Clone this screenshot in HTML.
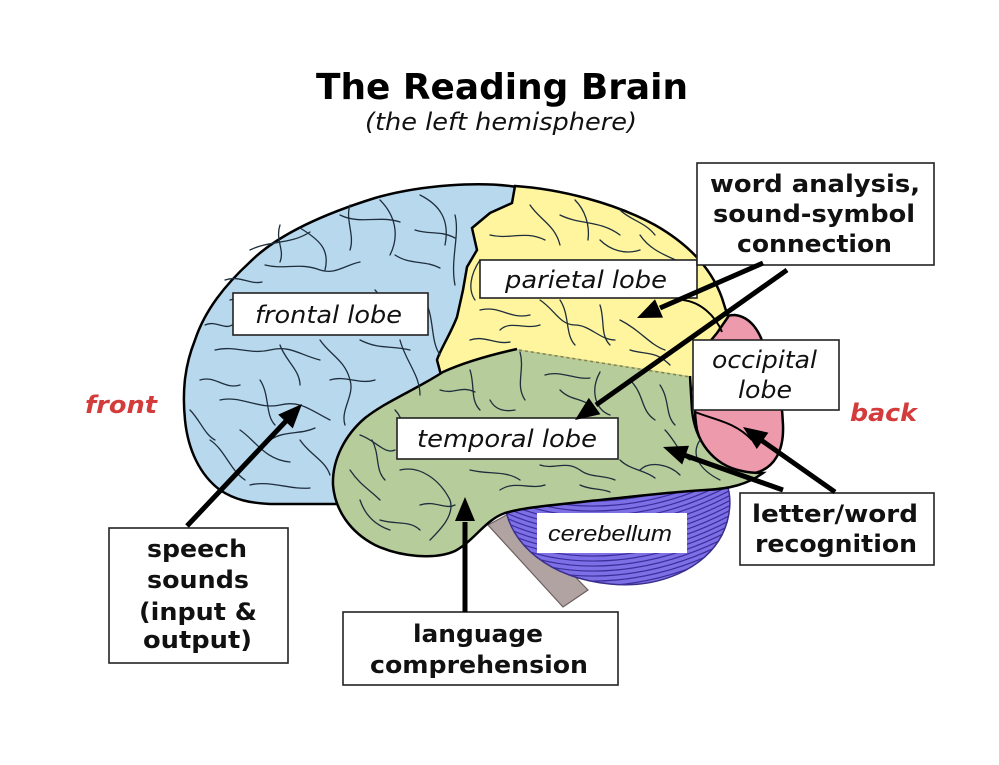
<!DOCTYPE html>
<html><head><meta charset="utf-8"><style>
html,body{margin:0;padding:0;background:#fff;}
svg{display:block;}
.lab{font-family:"DejaVu Sans","Liberation Sans",sans-serif;font-style:italic;font-size:24px;fill:#111;}
.bold{font-family:"DejaVu Sans","Liberation Sans",sans-serif;font-weight:bold;font-size:24px;fill:#111;}
.sul{fill:none;stroke:#1e2e3c;stroke-width:1.3;stroke-linecap:round;}
.box{fill:#fff;stroke:#222;stroke-width:1.6;}
.arr{stroke:#000;stroke-width:5;fill:none;}
</style></head><body>
<svg width="999" height="765" viewBox="0 0 999 765" xmlns="http://www.w3.org/2000/svg">
<rect width="999" height="765" fill="#fff"/>
<defs>
<clipPath id="cb"><path d="M505,505 C510,545 550,578 610,584 C660,589 705,568 722,535 C732,515 731,495 727,485 L600,495 Z"/></clipPath>
</defs>

<!-- frontal (blue) -->
<path d="M517,187 C480,181 420,185 375,198 C330,212 280,232 250,262 C225,285 205,310 195,340 C185,365 182,390 185,420 C188,450 200,475 220,490 C235,500 250,503 270,504 L340,504 L420,420 L480,372 L520,190 Z" fill="#b8d8ee" stroke="#000" stroke-width="2.5"/>
<!-- occipital (pink) -->
<path d="M700,345 C705,325 720,315 735,315 C750,317 760,330 765,350 C775,370 782,395 783,425 C784,450 775,468 755,473 C730,476 705,460 697,430 C693,410 695,370 700,345 Z" fill="#ec9aac" stroke="#000" stroke-width="2.5"/>
<!-- parietal (yellow) -->
<path d="M515,186 C560,189 615,203 655,225 C690,245 712,270 722,298 L728,317 L717,333 L697,357 L693,390 L520,365 L445,390 L437,360 C440,350 450,335 457,317 L463,290 L467,267 L477,250 L472,228 L490,213 L512,203 Z" fill="#fff59e" stroke="#000" stroke-width="2.5"/>
<!-- brain stem -->
<polygon points="488,525 512,512 588,590 563,607" fill="#b2a3a3" stroke="#6a5e5e" stroke-width="1.2"/>
<!-- cerebellum -->
<path d="M505,505 C510,545 550,578 610,584 C660,589 705,568 722,535 C732,515 731,495 727,485 L600,495 Z" fill="#7d6fe6" stroke="#3a2f8a" stroke-width="1.5"/>
<g clip-path="url(#cb)" stroke="#3b2e9a" stroke-width="1.2" fill="none">
<path d="M500,460 C570,495 660,485 740,440"/>
<path d="M500,465 C570,500 660,490 740,445"/>
<path d="M500,470 C570,505 660,495 740,450"/>
<path d="M500,475 C570,510 660,500 740,455"/>
<path d="M500,480 C570,515 660,505 740,460"/>
<path d="M500,485 C570,520 660,510 740,465"/>
<path d="M500,490 C570,525 660,515 740,470"/>
<path d="M500,495 C570,530 660,520 740,475"/>
<path d="M500,500 C570,535 660,525 740,480"/>
<path d="M500,505 C570,540 660,530 740,485"/>
<path d="M500,510 C570,545 660,535 740,490"/>
<path d="M500,515 C570,550 660,540 740,495"/>
<path d="M500,520 C570,555 660,545 740,500"/>
<path d="M500,525 C570,560 660,550 740,505"/>
<path d="M500,530 C570,565 660,555 740,510"/>
<path d="M500,535 C570,570 660,560 740,515"/>
<path d="M500,540 C570,575 660,565 740,520"/>
<path d="M500,545 C570,580 660,570 740,525"/>
<path d="M500,550 C570,585 660,575 740,530"/>
<path d="M500,555 C570,590 660,580 740,535"/>
<path d="M500,560 C570,595 660,585 740,540"/>
<path d="M500,565 C570,600 660,590 740,545"/>
<path d="M500,570 C570,605 660,595 740,550"/>
<path d="M500,575 C570,610 660,600 740,555"/>
<path d="M500,580 C570,615 660,605 740,560"/>
<path d="M500,585 C570,620 660,610 740,565"/>
<path d="M500,590 C570,625 660,615 740,570"/>
</g>
<!-- temporal (green) -->
<path d="M443,372 C465,362 490,355 517,349 L690,376 L692,410 C695,440 712,465 742,471 C750,473 758,473 763,473 C748,484 730,489 705,490 C670,492 630,497 590,501 C555,505 525,507 505,513 C485,520 475,540 455,551 C435,560 400,557 375,545 C350,532 335,510 333,485 C332,460 345,435 365,418 C385,402 415,390 443,372 Z" fill="#b6cc9a"/>
<path d="M690,376 L692,410 C695,440 712,465 742,471 C750,473 758,473 763,473 C748,484 730,489 705,490 C670,492 630,497 590,501 C555,505 525,507 505,513 C485,520 475,540 455,551 C435,560 400,557 375,545 C350,532 335,510 333,485 C332,460 345,435 365,418 C385,402 415,390 443,372 C465,362 490,355 517,349" fill="none" stroke="#000" stroke-width="2.5"/>
<path d="M519,350 L690,377" stroke="#8a8040" stroke-width="1.5" stroke-dasharray="3,3" fill="none"/>

<g class="sul">
<!-- frontal -->
<path d="M250,250 C270,240 290,245 310,232"/>
<path d="M300,228 C320,240 330,250 325,270"/>
<path d="M340,215 C360,225 380,215 400,222"/>
<path d="M380,200 C395,215 400,235 390,255"/>
<path d="M420,195 C440,205 450,220 445,245"/>
<path d="M455,215 C460,235 450,260 455,285"/>
<path d="M230,300 C245,295 255,305 270,300"/>
<path d="M265,265 C285,270 300,262 320,270 C335,275 345,265 360,262"/>
<path d="M395,255 C410,265 425,260 440,268"/>
<path d="M215,350 C235,345 250,355 270,350 C290,345 300,355 320,360"/>
<path d="M280,345 C285,360 300,370 300,385"/>
<path d="M320,340 C330,355 345,360 350,380 C355,395 340,410 345,425"/>
<path d="M360,340 C380,350 390,345 410,350"/>
<path d="M400,340 C405,360 420,375 420,395"/>
<path d="M220,400 C240,395 260,410 280,405 C300,400 310,410 330,420"/>
<path d="M240,430 C255,440 265,460 290,462"/>
<path d="M210,440 C225,450 230,470 245,480"/>
<path d="M300,440 C310,455 325,460 330,475"/>
<path d="M250,485 C270,480 290,490 310,488"/>
<path d="M330,380 C345,375 360,385 375,380"/>
<path d="M425,300 C435,320 430,340 440,355"/>
<path d="M200,380 C215,375 225,390 240,385"/>
<path d="M260,380 C270,395 265,415 275,425"/>
<path d="M350,205 C345,220 355,235 350,250"/>
<path d="M280,225 C275,240 285,250 280,262"/>
<path d="M225,280 C240,275 250,285 262,282"/>
<path d="M205,325 C215,320 225,330 232,325"/>
<path d="M360,435 C375,440 385,455 395,450"/>
<path d="M270,440 C285,430 300,435 315,428"/>
<path d="M415,230 C430,235 440,230 455,238"/>
<path d="M190,410 C200,420 205,435 215,440"/>
<path d="M375,290 C385,300 380,315 390,320"/>
<!-- parietal -->
<path d="M490,235 C510,240 525,230 545,240"/>
<path d="M530,205 C540,220 555,225 560,245"/>
<path d="M560,215 C580,225 600,220 620,235"/>
<path d="M600,240 C610,250 625,255 640,250"/>
<path d="M640,235 C650,250 665,255 680,262"/>
<path d="M480,310 C500,305 510,320 530,315"/>
<path d="M500,330 C510,320 525,330 540,325"/>
<path d="M540,300 C555,310 560,325 575,325 C590,325 600,340 615,340"/>
<path d="M560,300 C570,315 565,335 575,345"/>
<path d="M600,305 C605,320 600,335 610,345"/>
<path d="M620,320 C640,330 650,345 665,350"/>
<path d="M630,350 C645,355 655,350 670,365"/>
<path d="M470,340 C485,335 495,345 510,342"/>
<path d="M575,200 C585,210 590,225 588,240"/>
<path d="M620,210 C630,220 645,222 655,235"/>
<path d="M480,260 C470,275 468,290 475,300"/>
<!-- temporal -->
<path d="M470,370 C475,385 470,400 480,410"/>
<path d="M520,352 C525,370 515,385 525,400"/>
<path d="M545,375 C560,370 575,380 590,378"/>
<path d="M600,372 C590,390 595,410 610,415"/>
<path d="M630,380 C645,395 640,410 655,420"/>
<path d="M660,385 C670,400 665,415 675,425"/>
<path d="M372,440 C380,455 375,470 385,480"/>
<path d="M350,470 C360,485 370,490 380,500"/>
<path d="M400,470 C420,465 440,480 450,500 C455,515 440,530 430,540"/>
<path d="M420,505 C435,500 445,510 455,505"/>
<path d="M470,470 C490,475 505,470 520,480"/>
<path d="M500,490 C515,480 530,490 545,485"/>
<path d="M540,465 C555,470 565,460 580,470 C590,478 605,475 615,480"/>
<path d="M620,460 C630,470 645,470 655,478"/>
<path d="M380,520 C395,525 410,520 420,530"/>
<path d="M640,470 C650,460 670,465 680,475"/>
<path d="M360,500 C365,515 375,525 390,530"/>
<path d="M700,440 C690,455 700,470 720,480"/>
<path d="M440,390 C455,395 460,385 475,392"/>
<path d="M490,400 C495,410 505,412 515,410"/>
<path d="M560,390 C570,400 580,398 590,405"/>
<path d="M665,430 C675,440 680,455 690,460"/>
<path d="M395,410 C405,420 400,430 410,435"/>
<path d="M580,485 C590,490 600,488 610,492"/>
</g>
<path d="M683,300 C700,302 715,315 722,332" fill="none" stroke="#000" stroke-width="2"/>
<path d="M695,412 C715,420 735,422 752,440" fill="none" stroke="#000" stroke-width="2"/>

<!-- boxes -->
<rect class="box" x="233" y="293" width="195" height="42"/>
<rect class="box" x="480" y="260" width="217" height="38"/>
<rect class="box" x="397" y="418" width="221" height="41"/>
<rect class="box" x="693" y="340" width="146" height="70"/>
<rect class="box" x="697" y="163" width="237" height="102"/>
<rect class="box" x="740" y="493" width="194" height="72"/>
<rect class="box" x="109" y="528" width="179" height="135"/>
<rect class="box" x="343" y="612" width="275" height="73"/>
<rect x="537" y="513" width="150" height="40" fill="#fff"/>

<!-- arrows -->
<line class="arr" x1="187" y1="526" x2="287" y2="420"/>
<polygon points="302,404 292.8,428.4 278.2,414.6" fill="#000"/>
<line class="arr" x1="465" y1="612" x2="465" y2="522"/>
<polygon points="465,497 475,521 455,521" fill="#000"/>
<line class="arr" x1="763" y1="263" x2="660" y2="308"/>
<polygon points="637,318 655,299.2 663,317.6" fill="#000"/>
<line class="arr" x1="787" y1="270" x2="596" y2="405"/>
<polygon points="575,420 588.8,397.9 600.4,414.3" fill="#000"/>
<line class="arr" x1="783" y1="490" x2="684" y2="455"/>
<polygon points="663,447 689,445.7 682.2,464.5" fill="#000"/>
<line class="arr" x1="835" y1="492" x2="761" y2="440"/>
<polygon points="743,427 768.4,432.6 756.8,449" fill="#000"/>

<!-- text -->
<text x="502" y="99" text-anchor="middle" font-family="DejaVu Sans, Liberation Sans, sans-serif" font-weight="bold" font-size="36" fill="#000" textLength="372" lengthAdjust="spacingAndGlyphs">The Reading Brain</text>
<text x="501" y="130" text-anchor="middle" font-family="DejaVu Sans, Liberation Sans, sans-serif" font-style="italic" font-size="24" fill="#111" textLength="272" lengthAdjust="spacingAndGlyphs">(the left hemisphere)</text>

<text class="lab" x="328.5" y="323" text-anchor="middle" textLength="147" lengthAdjust="spacingAndGlyphs">frontal lobe</text>
<text class="lab" x="586" y="288" text-anchor="middle" textLength="162" lengthAdjust="spacingAndGlyphs">parietal lobe</text>
<text class="lab" x="507" y="447" text-anchor="middle" textLength="180" lengthAdjust="spacingAndGlyphs">temporal lobe</text>
<text class="lab" x="764.5" y="368" text-anchor="middle" textLength="105" lengthAdjust="spacingAndGlyphs">occipital</text>
<text class="lab" x="765" y="398" text-anchor="middle" textLength="54" lengthAdjust="spacingAndGlyphs">lobe</text>
<text x="610" y="541" text-anchor="middle" font-family="Liberation Sans, Arial, sans-serif" font-style="italic" font-size="22" fill="#111" textLength="124" lengthAdjust="spacingAndGlyphs">cerebellum</text>

<text class="bold" x="815" y="192" text-anchor="middle" textLength="210" lengthAdjust="spacingAndGlyphs">word analysis,</text>
<text class="bold" x="814" y="222" text-anchor="middle" textLength="202" lengthAdjust="spacingAndGlyphs">sound-symbol</text>
<text class="bold" x="814.5" y="252" text-anchor="middle" textLength="155" lengthAdjust="spacingAndGlyphs">connection</text>
<text class="bold" x="835" y="522" text-anchor="middle" textLength="166" lengthAdjust="spacingAndGlyphs">letter/word</text>
<text class="bold" x="836" y="552" text-anchor="middle" textLength="162" lengthAdjust="spacingAndGlyphs">recognition</text>
<text class="bold" x="197" y="557" text-anchor="middle" textLength="100" lengthAdjust="spacingAndGlyphs">speech</text>
<text class="bold" x="198" y="588" text-anchor="middle" textLength="102" lengthAdjust="spacingAndGlyphs">sounds</text>
<text class="bold" x="198" y="620" text-anchor="middle" textLength="118" lengthAdjust="spacingAndGlyphs">(input &amp;</text>
<text class="bold" x="197.5" y="648" text-anchor="middle" textLength="109" lengthAdjust="spacingAndGlyphs">output)</text>
<text class="bold" x="478" y="642" text-anchor="middle" textLength="130" lengthAdjust="spacingAndGlyphs">language</text>
<text class="bold" x="479" y="673" text-anchor="middle" textLength="218" lengthAdjust="spacingAndGlyphs">comprehension</text>

<text x="121" y="413" text-anchor="middle" font-family="DejaVu Sans, Liberation Sans, sans-serif" font-weight="bold" font-style="italic" font-size="24" fill="#d43c3c" textLength="72" lengthAdjust="spacingAndGlyphs">front</text>
<text x="883.5" y="421" text-anchor="middle" font-family="DejaVu Sans, Liberation Sans, sans-serif" font-weight="bold" font-style="italic" font-size="24" fill="#d43c3c" textLength="67" lengthAdjust="spacingAndGlyphs">back</text>
</svg>
</body></html>
